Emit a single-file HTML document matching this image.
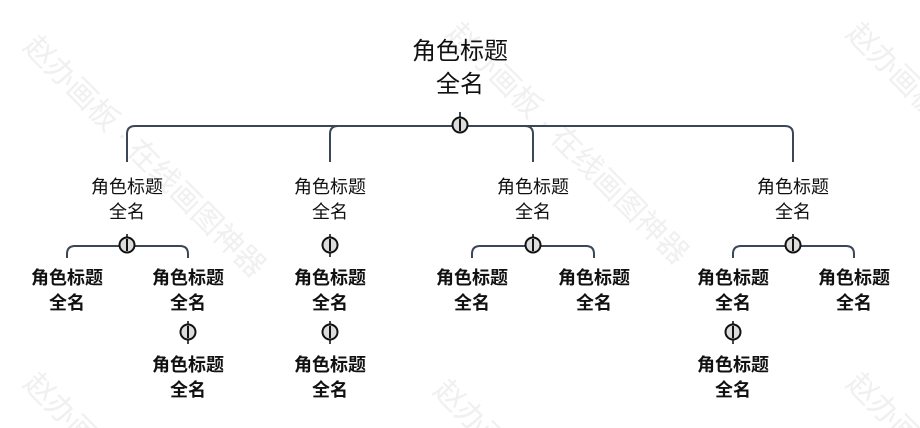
<!DOCTYPE html>
<html><head><meta charset="utf-8">
<style>
html,body{margin:0;padding:0;background:#fff;width:920px;height:428px;overflow:hidden}
svg{display:block;overflow:hidden}
text{font-family:"Liberation Sans","Noto Sans CJK SC",sans-serif;text-anchor:middle;fill:#111}
.wm{fill:#f0f0f0;font-size:30px;text-anchor:start}
.l2{font-size:18px}
.l3{font-size:18px;font-weight:bold}
.c{fill:none;stroke:#3b4757;stroke-width:2}
</style></head><body>
<svg width="920" height="428" viewBox="0 0 920 428">
<g>
<text class="wm" transform="translate(22,48) rotate(45)">赵办画板 · 在线画图神器</text>
<text class="wm" transform="translate(445,35) rotate(45)">赵办画板 · 在线画图神器</text>
<text class="wm" transform="translate(845,35) rotate(45)">赵办画板 · 在线画图神器</text>
<text class="wm" transform="translate(22,385) rotate(45)">赵办画板 · 在线画图神器</text>
<text class="wm" transform="translate(432,392) rotate(45)">赵办画板 · 在线画图神器</text>
<text class="wm" transform="translate(845,385) rotate(45)">赵办画板 · 在线画图神器</text>
</g>

<text x="460" y="59" style="font-size:24px">角色标题</text>
<text x="460" y="92" style="font-size:24px">全名</text>

<path class="c" d="M127 162 V134 Q127 126 135 126 H785 Q793 126 793 134 V162"/>
<path class="c" d="M330 162 V134 Q330 126 338 126 M533 162 V134 Q533 126 525 126"/>
<line class="c" x1="460" y1="112" x2="460" y2="126"/>

<g class="l2">
<text x="127" y="193">角色标题</text><text x="127" y="218">全名</text>
<text x="330" y="193">角色标题</text><text x="330" y="218">全名</text>
<text x="533" y="193">角色标题</text><text x="533" y="218">全名</text>
<text x="793" y="193">角色标题</text><text x="793" y="218">全名</text>
</g>

<path class="c" d="M67 258 V254 Q67 246 75 246 H180 Q188 246 188 254 V258"/>
<path class="c" d="M472 258 V254 Q472 246 480 246 H586 Q594 246 594 254 V258"/>
<path class="c" d="M733 258 V254 Q733 246 741 246 H846 Q854 246 854 254 V258"/>
<line class="c" x1="127" y1="234" x2="127" y2="246"/>
<line class="c" x1="533" y1="234" x2="533" y2="246"/>
<line class="c" x1="793" y1="234" x2="793" y2="246"/>
<line class="c" x1="330" y1="234" x2="330" y2="257"/>
<line class="c" x1="330" y1="321" x2="330" y2="344"/>
<line class="c" x1="188" y1="321" x2="188" y2="344"/>
<line class="c" x1="733" y1="321" x2="733" y2="344"/>

<g stroke="#111" stroke-width="2" fill="#dcdcdc">
<circle cx="460" cy="125" r="7.5"/>
<circle cx="127" cy="245" r="7.5"/>
<circle cx="330" cy="245" r="7.5"/>
<circle cx="533" cy="245" r="7.5"/>
<circle cx="793" cy="245" r="7.5"/>
<circle cx="330" cy="332" r="7.5"/>
<circle cx="188" cy="332" r="7.5"/>
<circle cx="733" cy="332" r="7.5"/>
</g>
<g stroke="#111" stroke-width="2">
<line x1="460" y1="119" x2="460" y2="131"/>
<line x1="127" y1="239" x2="127" y2="251"/>
<line x1="330" y1="239" x2="330" y2="251"/>
<line x1="533" y1="239" x2="533" y2="251"/>
<line x1="793" y1="239" x2="793" y2="251"/>
<line x1="330" y1="326" x2="330" y2="338"/>
<line x1="188" y1="326" x2="188" y2="338"/>
<line x1="733" y1="326" x2="733" y2="338"/>
</g>

<g class="l3">
<text x="67" y="284">角色标题</text><text x="67" y="309">全名</text>
<text x="188" y="284">角色标题</text><text x="188" y="309">全名</text>
<text x="330" y="284">角色标题</text><text x="330" y="309">全名</text>
<text x="472" y="284">角色标题</text><text x="472" y="309">全名</text>
<text x="594" y="284">角色标题</text><text x="594" y="309">全名</text>
<text x="733" y="284">角色标题</text><text x="733" y="309">全名</text>
<text x="854" y="284">角色标题</text><text x="854" y="309">全名</text>
<text x="188" y="371">角色标题</text><text x="188" y="396">全名</text>
<text x="330" y="371">角色标题</text><text x="330" y="396">全名</text>
<text x="733" y="371">角色标题</text><text x="733" y="396">全名</text>
</g>
</svg>
</body></html>
